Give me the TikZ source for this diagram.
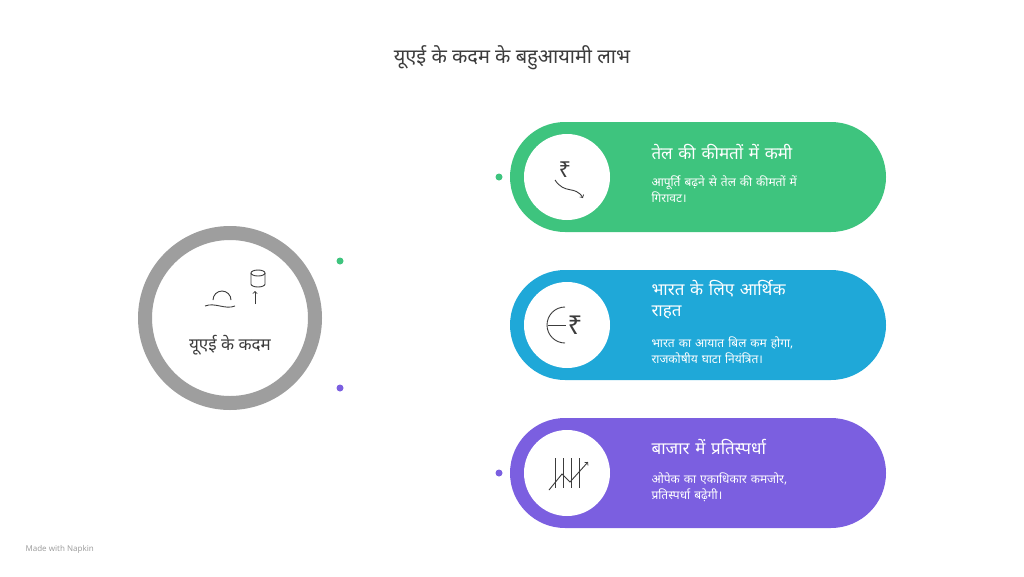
\documentclass[tikz,border=0pt]{standalone}
\usepackage{fontspec}
\setmainfont[Script=Devanagari]{Noto Sans}
\usetikzlibrary{positioning}
\definecolor{cgreen}{RGB}{62, 196, 126}
\definecolor{cblue}{RGB}{31, 168, 216}
\definecolor{cpurple}{RGB}{123, 95, 224}
\definecolor{cgray}{RGB}{158, 158, 158}
\definecolor{ctext}{RGB}{60, 60, 60}
\tikzset{
  card/.style={rounded corners=55pt, minimum width=376pt, minimum height=110pt, inner sep=0pt},
  badge/.style={circle, minimum size=86pt, fill=white, inner sep=0pt},
  dot/.style={circle, minimum size=7pt, inner sep=0pt},
  head/.style={anchor=north west, text width=160pt, align=left, text=white, font=\bfseries\fontsize{17}{21}\selectfont},
  body/.style={anchor=north west, text width=172pt, align=left, text=white, font=\fontsize{12}{16}\selectfont},
  icon/.style={line width=0.9pt, color=ctext}
}
\begin{document}
\begin{tikzpicture}[x=1pt, y=1pt]
\useasboundingbox (0,0) rectangle (1024,-576);
\node (title) [font=\bfseries\fontsize{20}{24}\selectfont, text=ctext] at (512pt, -58pt) {यूएई के कदम के बहुआयामी लाभ};
% left hub
\node (hub) [circle, minimum size=170pt, draw=cgray, line width=14pt, fill=white] at (230pt, -318pt) {};
\node (hubtext) [font=\bfseries\fontsize{17}{20}\selectfont, text=ctext] at (230pt, -345pt) {यूएई के कदम};
\draw [icon] (213pt, -300pt) arc (180:0:9pt) -- (231pt, -300pt);
\draw [icon] (205pt, -306pt) .. controls (215pt, -302pt) and (225pt, -310pt) .. (235pt, -306pt);
\draw [icon] (258pt, -273pt) ellipse (7pt and 3pt);
\draw [icon] (251pt, -273pt) -- (251pt, -284pt) arc (180:360:7pt and 3pt) -- (265pt, -273pt);
\draw [icon, ->] (255pt, -304pt) -- (255pt, -291pt);
\node (hdot1) [dot, fill=cgreen] at (340pt, -261pt) {};
\node (hdot2) [dot, fill=cpurple] at (340pt, -388pt) {};
% cards
\node (card1) [card, fill=cgreen] at (698pt, -177pt) {};
\node (card2) [card, fill=cblue] at (698pt, -325pt) {};
\node (card3) [card, fill=cpurple] at (698pt, -473pt) {};
\node (badge1) [badge] at (567pt, -177pt) {};
\node (badge2) [badge] at (567pt, -325pt) {};
\node (badge3) [badge] at (567pt, -473pt) {};
\node (cdot1) [dot, fill=cgreen] at (499pt, -177pt) {};
\node (cdot3) [dot, fill=cpurple] at (499pt, -473pt) {};
\node (icon1) [font=\fontsize{22}{22}\selectfont, text=ctext] at (565pt, -170pt) {₹};
\draw [icon, ->] (555pt, -180pt) .. controls (565pt, -195pt) and (575pt, -185pt) .. (583pt, -198pt);
\node (icon2) [font=\fontsize{26}{26}\selectfont, text=ctext] at (575pt, -325pt) {₹};
\draw [icon] (565pt, -307pt) arc (90:270:18pt);
\draw [icon] (548pt, -325pt) -- (566pt, -325pt);
\foreach \x in {555, 563, 571, 579}
  \draw [icon] (\x pt, -458pt) -- (\x pt, -488pt);
\draw [icon, ->] (549pt, -490pt) -- (562pt, -474pt) -- (570pt, -482pt) -- (588pt, -462pt);
% texts
\node (head1) [head] at (648pt, -141pt) {तेल की कीमतों में कमी};
\node (body1) [body] at (648pt, -172pt) {आपूर्ति बढ़ने से तेल की कीमतों में गिरावट।};
\node (head2) [head] at (648pt, -277pt) {भारत के लिए आर्थिक राहत};
\node (body2) [body] at (648pt, -333pt) {भारत का आयात बिल कम होगा, राजकोषीय घाटा नियंत्रित।};
\node (head3) [head] at (648pt, -436pt) {बाजार में प्रतिस्पर्धा};
\node (body3) [body] at (648pt, -469pt) {ओपेक का एकाधिकार कमजोर, प्रतिस्पर्धा बढ़ेगी।};
\node (made) [anchor=west, font=\fontsize{8}{10}\selectfont, text=cgray] at (22pt, -549pt) {Made with Napkin};
\end{tikzpicture}
\end{document}
